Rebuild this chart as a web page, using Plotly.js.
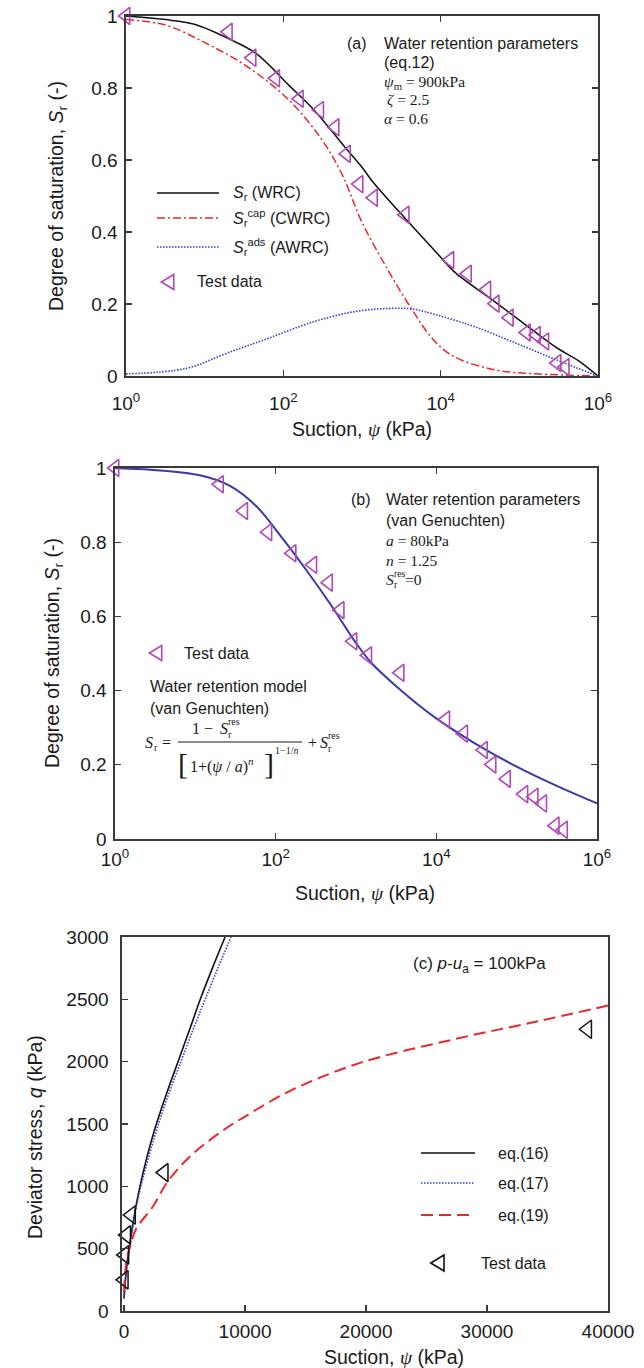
<!DOCTYPE html>
<html>
<head>
<meta charset="utf-8">
<script src="https://cdn.plot.ly/plotly-3.0.1.min.js"></script>
<style>html,body{margin:0;padding:0;background:#fff;}#chart{width:644px;height:1368px;}</style>
</head>
<body>
<div id="chart"></div>
<script>
// ---------- data ----------
// Test data (suction kPa, degree of saturation)
const psiTest = [1, 20, 40, 80, 160, 290, 455, 635, 917, 1400, 3540, 13100, 21900, 38600, 49400, 74700, 123000, 165000, 211000, 302000, 383000];
const srTest  = [1.0, 0.956, 0.884, 0.827, 0.770, 0.739, 0.691, 0.617, 0.533, 0.495, 0.448, 0.322, 0.284, 0.240, 0.201, 0.162, 0.121, 0.114, 0.096, 0.036, 0.025];

// (a) WRC total
const psiWRC = [1, 3.16, 7.4, 22, 45, 117, 245, 600, 1000, 1320, 3700, 10000, 14800, 49000, 100000, 166000, 316000, 550000, 1000000];
const srWRC  = [1.0, 0.99, 0.977, 0.933, 0.896, 0.808, 0.739, 0.637, 0.58, 0.544, 0.433, 0.33, 0.29, 0.206, 0.155, 0.119, 0.075, 0.044, 0.0];
// (a) capillary WRC
const psiCap = [1, 3.16, 10.5, 35, 117, 310, 575, 970, 2140, 4370, 8130, 14800, 49000, 166000, 1000000];
const srCap  = [0.99, 0.975, 0.924, 0.859, 0.767, 0.656, 0.554, 0.433, 0.294, 0.183, 0.10, 0.054, 0.017, 0.006, 0.0];
// (a) adsorptive WRC
const psiAds = [1, 5.8, 19, 65, 245, 810, 2400, 4400, 9100, 27000, 91000, 302000, 1000000];
const srAds  = [0.006, 0.021, 0.063, 0.105, 0.151, 0.179, 0.188, 0.186, 0.169, 0.137, 0.091, 0.044, 0.0];
// (b) van Genuchten curve
const psiVG = [1, 11, 28, 58, 117, 240, 490, 1000, 1580, 3240, 9300, 30200, 100000, 331000, 1000000];
const srVG  = [1.0, 0.981, 0.950, 0.896, 0.815, 0.725, 0.630, 0.528, 0.473, 0.41, 0.33, 0.258, 0.195, 0.141, 0.096];

// (c) deviator stress
const psiQTest = [0, 50, 200, 600, 3300, 38300];
const qTest    = [250, 450, 610, 770, 1110, 2260];
const psiEq16 = [0, 100, 300, 600, 1000, 1500, 2480, 3500, 4460, 5500, 6300, 7300, 8350];
const qEq16   = [100, 240, 420, 620, 850, 1080, 1440, 1740, 2000, 2280, 2500, 2750, 3000];
const psiEq17 = [0, 100, 300, 600, 1000, 1500, 2500, 3500, 4700, 5800, 6700, 7800, 8840];
const qEq17   = [100, 235, 410, 600, 830, 1040, 1390, 1690, 2000, 2280, 2500, 2760, 3000];
const psiEq19 = [0, 200, 600, 1000, 2400, 3550, 5450, 8350, 10000, 13600, 19500, 27300, 34000, 40000];
const qEq19   = [150, 400, 550, 660, 840, 1030, 1240, 1460, 1560, 1760, 1990, 2180, 2320, 2450];

const logTickVals = [1, 100, 10000, 1000000];
const logTickText = ['10<sup>0</sup>', '10<sup>2</sup>', '10<sup>4</sup>', '10<sup>6</sup>'];

// ---------- styling ----------
const SANS = 'Liberation Sans, Arial, Helvetica, sans-serif';
const SERIF = 'Liberation Serif, Times New Roman, serif';
const TXT = '#1a1a1a';
const AX = '#3a3a3a';
const PURPLE = '#b048b8';
const RED = '#e8282d';
const BLUE = '#2f3fc8';
const W = 644, H = 1368;
const P = x => x / W;
const Q = y => 1 - y / H;

const traces = [
  // panel a
  {x: psiWRC, y: srWRC, xaxis: 'x', yaxis: 'y', mode: 'lines', line: {color: '#111', width: 1.5, shape: 'spline'}},
  {x: psiCap, y: srCap, xaxis: 'x', yaxis: 'y', mode: 'lines', line: {color: RED, width: 1.5, dash: '8px,3px,2px,3px', shape: 'spline'}},
  {x: psiAds, y: srAds, xaxis: 'x', yaxis: 'y', mode: 'lines', line: {color: BLUE, width: 1.6, dash: '1.5px,1.5px', shape: 'spline'}},
  {x: psiTest, y: srTest, xaxis: 'x', yaxis: 'y', mode: 'markers', cliponaxis: false,
   marker: {symbol: 'triangle-left-open', size: 15, color: PURPLE, line: {color: PURPLE, width: 1.6}}},
  // panel b
  {x: psiVG, y: srVG, xaxis: 'x2', yaxis: 'y2', mode: 'lines', line: {color: '#3a3aaa', width: 2, shape: 'spline'}},
  {x: psiTest, y: srTest, xaxis: 'x2', yaxis: 'y2', mode: 'markers', cliponaxis: false,
   marker: {symbol: 'triangle-left-open', size: 15, color: PURPLE, line: {color: PURPLE, width: 1.6}}},
  // panel c
  {x: psiEq16, y: qEq16, xaxis: 'x3', yaxis: 'y3', mode: 'lines', line: {color: '#111', width: 1.6, shape: 'spline'}},
  {x: psiEq17, y: qEq17, xaxis: 'x3', yaxis: 'y3', mode: 'lines', line: {color: BLUE, width: 1.6, dash: '1.5px,1.5px', shape: 'spline'}},
  {x: psiEq19, y: qEq19, xaxis: 'x3', yaxis: 'y3', mode: 'lines', line: {color: RED, width: 2, dash: '12px,6px', shape: 'spline'}},
  {x: psiQTest, y: qTest, xaxis: 'x3', yaxis: 'y3', mode: 'markers', cliponaxis: false,
   marker: {symbol: 'triangle-left-open', size: 16, color: '#111', line: {color: '#111', width: 1.5}}}
];

function axisBase(extra) {
  return Object.assign({
    showline: true, linecolor: AX, linewidth: 1.6, mirror: 'ticks',
    ticks: 'inside', ticklen: 6, tickwidth: 1.3, tickcolor: AX,
    showgrid: false, zeroline: false,
    tickfont: {family: SANS, size: 19, color: TXT}
  }, extra);
}

const layout = {
  width: W, height: H,
  margin: {l: 0, r: 0, t: 0, b: 0},
  paper_bgcolor: '#fff', plot_bgcolor: '#fff',
  showlegend: false,
  xaxis: axisBase({type: 'log', range: [0, 6], domain: [P(126), P(598)], anchor: 'y',
    tickmode: 'array', tickvals: logTickVals, ticktext: logTickText, ticklabelstandoff: 10}),
  yaxis: axisBase({range: [0, 1], domain: [Q(376), Q(16)], anchor: 'x', dtick: 0.2, tick0: 0, ticklabelstandoff: 3}),
  xaxis2: axisBase({type: 'log', range: [0, 6], domain: [P(115), P(597)], anchor: 'y2',
    tickmode: 'array', tickvals: logTickVals, ticktext: logTickText, ticklabelstandoff: 3}),
  yaxis2: axisBase({range: [0, 1], domain: [Q(839), Q(468)], anchor: 'x2', dtick: 0.2, tick0: 0, ticklabelstandoff: 3}),
  xaxis3: axisBase({range: [-170, 40000], domain: [P(122), P(608)], anchor: 'y3', dtick: 10000, tick0: 0,
    tickformat: 'd', mirror: true, ticklabelstandoff: 3}),
  yaxis3: axisBase({range: [0, 3000], domain: [Q(1311), Q(937)], anchor: 'x3', dtick: 500, tick0: 0,
    tickformat: 'd', mirror: true, ticklabelstandoff: 8}),
  annotations: [],
  shapes: []
};

function txt(x, y, text, o) {
  layout.annotations.push(Object.assign({
    xref: 'paper', yref: 'paper', x: P(x), y: Q(y), text: text, showarrow: false,
    xanchor: 'left', yanchor: 'middle', font: {family: SANS, size: 16, color: TXT}
  }, o || {}));
}
function legLine(x0, x1, y, line) {
  layout.shapes.push({type: 'line', xref: 'paper', yref: 'paper', x0: P(x0), x1: P(x1), y0: Q(y), y1: Q(y), line: line});
}
function legTri(x, y, color, s) {
  const r = s / 2, rt = (r * 2 / Math.sqrt(3)).toFixed(2), r2 = (r / 2).toFixed(2);
  layout.shapes.push({type: 'path', xref: 'paper', yref: 'paper', xsizemode: 'pixel', ysizemode: 'pixel',
    xanchor: P(x), yanchor: Q(y), path: 'M-' + rt + ',0L' + r2 + ',-' + r + 'L' + r2 + ',' + r + 'Z',
    line: {color: color, width: 1.6}, fillcolor: 'rgba(0,0,0,0)'});
}
const PSI = '<span style="font-family:' + SERIF + '"><i>ψ</i></span>';
const serif = (size) => ({font: {family: SERIF, size: size, color: TXT}});
// S with stacked sub "r" and sup "res" (serif)
function sRes(x, y, size) {
  txt(x, y, '<i>S</i>', serif(size));
  txt(x + size * 0.52, y - size * 0.38, 'res', serif(size * 0.62));
  txt(x + size * 0.52, y + size * 0.38, 'r', serif(size * 0.62));
}

// axis titles
txt(362, 429, 'Suction, ' + PSI + ' (kPa)', {xanchor: 'center', font: {family: SANS, size: 19.5, color: TXT}});
txt(365, 893, 'Suction, ' + PSI + ' (kPa)', {xanchor: 'center', font: {family: SANS, size: 19.5, color: TXT}});
txt(394, 1357, 'Suction, ' + PSI + ' (kPa)', {xanchor: 'center', font: {family: SANS, size: 19.5, color: TXT}});
txt(58, 196, 'Degree of saturation, <i>S</i><sub>r</sub> (-)', {xanchor: 'center', textangle: -90, font: {family: SANS, size: 19.5, color: TXT}});
txt(53, 653, 'Degree of saturation, <i>S</i><sub>r</sub> (-)', {xanchor: 'center', textangle: -90, font: {family: SANS, size: 19.5, color: TXT}});
txt(35, 1137, 'Deviator stress, <i>q</i> (kPa)', {xanchor: 'center', textangle: -90, font: {family: SANS, size: 19.5, color: TXT}});

// panel a texts
txt(345, 43, '(a)');
txt(382, 43, 'Water retention parameters');
txt(382, 63, '(eq.12)');
txt(382, 82, '<i>ψ</i><sub>m</sub> = 900kPa', serif(15.5));
txt(385, 100, '<i>ζ</i> = 2.5', serif(15.5));
txt(382, 118, '<i>α</i> = 0.6', serif(15.5));
// panel a legend
legLine(157, 219, 193, {color: '#111', width: 1.5});
legLine(157, 219, 218, {color: RED, width: 1.5, dash: '8px,3px,2px,3px'});
legLine(157, 219, 247, {color: BLUE, width: 1.6, dash: '1.5px,1.5px'});
legTri(170, 282, PURPLE, 15);
txt(231, 193, '<i>S</i><sub>r</sub> (WRC)');
txt(231, 218, '<i>S</i><sub>r</sub><sup>cap</sup> (CWRC)');
txt(231, 247, '<i>S</i><sub>r</sub><sup>ads</sup> (AWRC)');
txt(195, 282, 'Test data');

// panel b texts
txt(349, 500, '(b)');
txt(384, 500, 'Water retention parameters');
txt(384, 521, '(van Genuchten)');
txt(384, 540, '<i>a</i> = 80kPa', serif(15.5));
txt(384, 560, '<i>n</i> = 1.25', serif(15.5));
sRes(384, 579, 15.5);
txt(403, 579, '=0', serif(15.5));
legTri(158, 653, PURPLE, 15);
txt(182, 653, 'Test data');
txt(148, 687, 'Water retention model');
txt(148, 708, '(van Genuchten)');
// formula
txt(143, 742, '<i>S</i>', serif(16));
txt(152, 747, 'r', serif(10));
txt(160, 742, '=', serif(16));
txt(190, 728, '1 − ', serif(16));
sRes(218, 728, 16);
legLine(178, 302, 742, {color: TXT, width: 1});
txt(176, 763, '[', serif(30));
txt(188, 765, '1+(<i>ψ</i> / <i>a</i>)<sup><i>n</i></sup>', serif(16));
txt(262, 763, ']', serif(30));
txt(273, 750, '1−1/<i>n</i>', serif(10));
txt(306, 742, '+', serif(16));
sRes(318, 742, 16);

// panel c texts
txt(411, 965, '(c) <i>p</i>-<i>u</i><sub>a</sub> = 100kPa', {font: {family: SANS, size: 17, color: TXT}});
legLine(421, 475, 1153, {color: '#111', width: 1.5});
legLine(421, 475, 1183, {color: BLUE, width: 1.6, dash: '1.5px,1.5px'});
legLine(421, 475, 1215, {color: RED, width: 2, dash: '12px,6px'});
txt(496, 1153, 'eq.(16)');
txt(496, 1183, 'eq.(17)');
txt(496, 1215, 'eq.(19)');
legTri(440, 1263, '#111', 16);
txt(479, 1263, 'Test data');

Plotly.newPlot('chart', traces, layout, {staticPlot: true, displayModeBar: false});
</script>
</body>
</html>
